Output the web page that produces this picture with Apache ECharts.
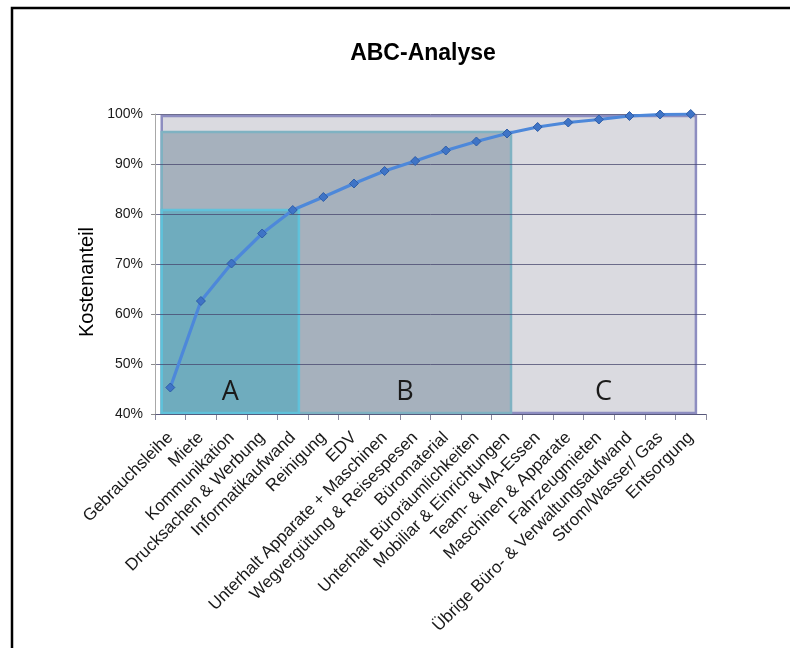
<!DOCTYPE html>
<html>
<head>
<meta charset="utf-8">
<script src="https://cdn.jsdelivr.net/npm/echarts@6/dist/echarts.min.js"></script>
<style>
html, body { margin: 0; padding: 0; background: #fff; }
#chartAbc { width: 790px; height: 648px; }
</style>
</head>
<body>
<div id="chartAbc"></div>
<script>
// Kostenarten, sortiert nach Anteil
var categories = [
    'Gebrauchsleihe', 'Miete', 'Kommunikation', 'Drucksachen & Werbung',
    'Informatikaufwand', 'Reinigung', 'EDV', 'Unterhalt Apparate + Maschinen',
    'Wegvergütung & Reisespesen', 'Büromaterial', 'Unterhalt Büroräumlichkeiten',
    'Mobiliar & Einrichtungen', 'Team- & MA-Essen', 'Maschinen & Apparate',
    'Fahrzeugmieten', 'Übrige Büro- & Verwaltungsaufwand', 'Strom/Wasser/ Gas', 'Entsorgung'
];
// kumulierter Kostenanteil in %
var cumShare = [45.3, 62.6, 70.1, 76.1, 80.8, 83.4, 86.1, 88.6, 90.6, 92.7, 94.5, 96.1, 97.4, 98.3, 98.9, 99.6, 99.9, 100];
var yTicks = [40, 50, 60, 70, 80, 90, 100];

// ABC-Klassen (Grenzen in Kategorie-Einheiten, Obergrenze in %)
var zoneNames = ['A', 'B', 'C'];
var zoneStart = 0.22;
var zoneEnd = [4.7, 11.63, 17.67];
var zoneTop = [80.8, 96.4, 99.6];
var zoneLabelLevel = 44.4;

var zoneFill = ['#6aabbd', '#a6b1bd', '#dadae0'];
var zoneBorder = ['#5ec3dc', '#7fb2c2', '#8d8dc0'];

var myChart = echarts.init(document.getElementById('chartAbc'));

// C zuerst zeichnen, A zuletzt (oben)
var zoneData = [2, 1, 0].map(function (i) {
    return [zoneStart, zoneEnd[i], zoneTop[i], i ? zoneEnd[i - 1] : zoneStart, i];
});

var option = {
    backgroundColor: '#fff',
    animation: false,
    title: {
        text: 'ABC-Analyse',
        left: 418,
        top: 37,
        textAlign: 'center',
        textStyle: {
            fontFamily: 'Liberation Sans, Arial, sans-serif',
            fontSize: 23,
            fontWeight: 'bold',
            color: '#000'
        }
    },
    graphic: [
        {
            type: 'rect',
            shape: { x: 12, y: 8, width: 900, height: 900 },
            style: { fill: null, stroke: '#000', lineWidth: 2.5 },
            silent: true
        },
        {
            type: 'text',
            x: 87,
            y: 282,
            rotation: Math.PI / 2,
            style: {
                text: 'Kostenanteil',
                font: '20px "Liberation Sans", Arial, sans-serif',
                fill: '#000',
                textAlign: 'center',
                textVerticalAlign: 'middle'
            }
        }
    ],
    grid: {
        left: 155,
        right: 84,
        top: 114,
        bottom: 234,
        outerBoundsMode: 'none'
    },
    xAxis: [{
        type: 'category',
        data: categories,
        boundaryGap: true,
        axisLine: { show: true, lineStyle: { color: '#8a8a9e', width: 1 } },
        axisTick: { show: true, length: 6, lineStyle: { color: '#8a8a9e' } },
        axisLabel: {
            interval: 0,
            rotate: 45,
            margin: 21,
            color: '#1a1a1a',
            fontFamily: 'Liberation Sans, Arial, sans-serif',
            fontSize: 17
        },
        splitLine: { show: false }
    }, {
        type: 'value',
        min: 0,
        max: 18,
        show: false
    }],
    yAxis: {
        type: 'value',
        min: yTicks[0],
        max: yTicks[yTicks.length - 1],
        interval: 10,
        z: 3,
        axisLine: { show: true, lineStyle: { color: '#a8a8a8' } },
        axisTick: { show: true, length: 4, lineStyle: { color: '#8a8a8a' } },
        axisLabel: {
            margin: 12,
            formatter: '{value}%',
            color: '#1a1a1a',
            fontFamily: 'Liberation Sans, Arial, sans-serif',
            fontSize: 14
        },
        splitLine: { show: true, lineStyle: { color: 'rgba(70,70,110,0.75)', width: 1 } }
    },
    series: [
        {
            type: 'custom',
            xAxisIndex: 1,
            z: 2,
            silent: true,
            data: zoneData,
            renderItem: function (params, api) {
                var idx = api.value(4);
                var p0 = api.coord([api.value(0), api.value(2)]);
                var p1 = api.coord([api.value(1), yTicks[0]]);
                var lp = api.coord([(api.value(3) + api.value(1)) / 2, zoneLabelLevel]);
                return {
                    type: 'group',
                    children: [{
                        type: 'rect',
                        shape: { x: p0[0], y: p0[1], width: p1[0] - p0[0], height: p1[1] - p0[1] - 1 },
                        style: { fill: zoneFill[idx], stroke: zoneBorder[idx], lineWidth: 2.5, opacity: idx === 0 ? 0.93 : 1 }
                    }, {
                        type: 'text',
                        x: lp[0],
                        y: lp[1],
                        z2: 10,
                        style: {
                            text: zoneNames[idx],
                            font: '27px "Open Sans", "Liberation Sans", sans-serif',
                            fill: '#1a1a1a',
                            textAlign: 'center',
                            textVerticalAlign: 'middle'
                        }
                    }]
                };
            }
        },
        {
            name: 'Kostenanteil',
            type: 'line',
            z: 5,
            data: cumShare,
            symbol: 'diamond',
            symbolSize: 9,
            showAllSymbol: true,
            lineStyle: { color: '#4d88da', width: 3.2 },
            itemStyle: { color: '#3f74c6', borderColor: '#2f5ea8', borderWidth: 1 }
        }
    ]
};
myChart.setOption(option);
</script>
</body>
</html>
